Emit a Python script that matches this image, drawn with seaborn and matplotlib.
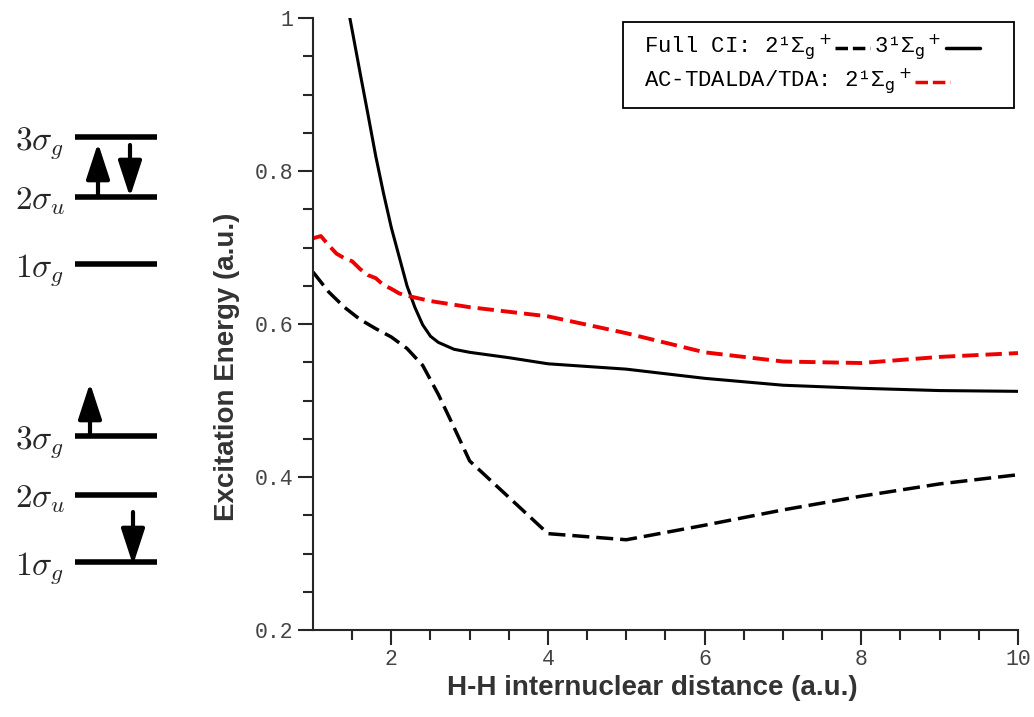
import matplotlib
matplotlib.use('Agg')
import matplotlib.pyplot as plt
import numpy as np
import seaborn as sns
from matplotlib.lines import Line2D
from matplotlib.offsetbox import TextArea, DrawingArea, HPacker, VPacker, AnchoredOffsetbox

# Full CI 2^1Sigma_g^+ (dashed black)
x_ci2 = [1.0, 1.2, 1.4, 1.6, 1.8, 2.0, 2.2, 2.4, 2.6, 2.8, 3.0, 4.0, 5.0, 6.0, 7.0, 8.0, 9.0, 10.0]
e_ci2 = [0.668, 0.642, 0.622, 0.606, 0.594, 0.583, 0.568, 0.546, 0.508, 0.465, 0.421,
         0.326, 0.318, 0.337, 0.357, 0.375, 0.391, 0.403]

# Full CI 3^1Sigma_g^+ (solid black)
x_ci3 = [1.4, 1.5, 1.6, 1.7, 1.8, 1.9, 2.0, 2.1, 2.2, 2.3, 2.4, 2.5, 2.6, 2.8, 3.0, 3.5,
         4.0, 5.0, 6.0, 7.0, 8.0, 9.0, 10.0]
e_ci3 = [1.038, 0.984, 0.929, 0.875, 0.820, 0.771, 0.726, 0.688, 0.650, 0.622, 0.599, 0.584,
         0.576, 0.567, 0.563, 0.556, 0.548, 0.541, 0.529, 0.520, 0.516, 0.513, 0.512]

# AC-TDALDA/TDA 2^1Sigma_g^+ (dashed red)
x_tda = [1.0, 1.1, 1.2, 1.3, 1.4, 1.5, 1.6, 1.7, 1.8, 1.9, 2.0, 2.1, 2.2, 2.5, 3.0, 3.5,
         4.0, 5.0, 6.0, 7.0, 8.0, 9.0, 10.0]
e_tda = [0.712, 0.715, 0.703, 0.692, 0.686, 0.682, 0.672, 0.664, 0.660, 0.651, 0.646, 0.640,
         0.637, 0.630, 0.622, 0.616, 0.610, 0.588, 0.563, 0.551, 0.549, 0.557, 0.562]

xticks = [2, 4, 6, 8, 10]
yticks = [0.2, 0.4, 0.6, 0.8, 1.0]
ytick_labels = ['0.2', '0.4', '0.6', '0.8', '1']

# orbital diagram (drawn in pixel units of the figure)
orbital_labels = [r'$1\sigma_g$', r'$2\sigma_u$', r'$3\sigma_g$']
ground_levels = [264, 197, 137]
excited_levels = [562, 495, 436]
# arrows: (x, tail, tip)
ground_arrows = [(98, 197, 143), (130, 145, 197)]
excited_arrows = [(90, 436, 383), (133, 512, 565)]

sns.set_style('ticks')
plt.rcParams['font.family'] = ['Liberation Mono', 'DejaVu Sans']
label_font = ['Liberation Sans Narrow', 'Liberation Sans', 'DejaVu Sans']

fig = plt.figure(figsize=(10.34, 7.17), dpi=100)
ax = fig.add_axes([0.3027, 0.1213, 0.6818, 0.8536])

sns.lineplot(x=x_ci2, y=e_ci2, ax=ax, color='black', lw=2.5, linestyle=(0, (4.9, 2.0)))
sns.lineplot(x=x_ci3, y=e_ci3, ax=ax, color='black', lw=2.2)
sns.lineplot(x=x_tda, y=e_tda, ax=ax, color='#ee0000', lw=2.8, linestyle=(0, (4.2, 1.8)))

ax.set_xlim(1, 10)
ax.set_ylim(0.2, 1.0)
ax.set_xticks(xticks)
ax.set_xticks(np.arange(1.5, 10, 0.5), minor=True)
ax.set_yticks(yticks)
ax.set_yticklabels(ytick_labels)
ax.set_yticks(np.arange(0.25, 1.0, 0.05), minor=True)

ax.spines['top'].set_visible(False)
ax.spines['right'].set_visible(False)
ax.spines['left'].set_linewidth(1.5)
ax.spines['bottom'].set_linewidth(1.5)
ax.tick_params(which='major', direction='out', length=11, width=1.5, labelsize=15.5,
               labelcolor='#444444', pad=3)
ax.tick_params(which='minor', direction='out', length=7, width=1.5)

ax.set_xlabel('H-H internuclear distance (a.u.)', fontsize=20, fontweight='bold',
              color='#333333', family=label_font)
ax.set_ylabel('Excitation Energy (a.u.)', fontsize=20, fontweight='bold',
              color='#333333', family=label_font)
ax.xaxis.set_label_coords(0.481, -0.073)
ax.yaxis.set_label_coords(-0.104, 0.43)

# custom legend: label followed by line sample
tp = dict(family=['Liberation Mono', 'DejaVu Sans'], size=16, color='black',
          math_fontfamily='dejavusans')
state = '¹Σ$_\\mathrm{g}$$^+$'


def sample(color, ls, lw):
    da = DrawingArea(25, 10, 0, 0)
    da.add_artist(Line2D([0, 25], [5, 5], color=color, lw=lw, linestyle=ls))
    return da


row1 = HPacker(children=[TextArea('Full CI: 2' + state, textprops=tp),
                         sample('black', (0, (3.6, 1.4)), 2.5),
                         TextArea('3' + state, textprops=tp),
                         sample('black', '-', 2.5)],
               align='center', sep=3, pad=0)
row2 = HPacker(children=[TextArea('AC-TDALDA/TDA: 2' + state, textprops=tp),
                         sample('#ee0000', (0, (3.6, 1.4)), 2.5)],
               align='center', sep=3, pad=0)
rows = VPacker(children=[row1, row2], align='left', sep=2.5, pad=0)
padded = HPacker(children=[DrawingArea(6.5, 1, 0, 0), rows, DrawingArea(16, 1, 0, 0)],
                 align='center', sep=0, pad=0)
box = AnchoredOffsetbox(loc='upper right', child=padded, pad=0.8, borderpad=0.3,
                        frameon=True, prop=dict(size=10),
                        bbox_to_anchor=(1.0, 1.0), bbox_transform=ax.transAxes)
box.patch.set_boxstyle('square', pad=0)
box.patch.set_edgecolor('black')
box.patch.set_linewidth(1.3)
ax.add_artist(box)

# orbital level diagram on the left
dax = fig.add_axes([0, 0, 1, 1], zorder=-1)
dax.set_xlim(0, 1034)
dax.set_ylim(717, 0)
dax.axis('off')

for levels, arrows in [(ground_levels, ground_arrows), (excited_levels, excited_arrows)]:
    dax.hlines(levels, 75, 157, color='black', lw=4)
    for name, y in zip(orbital_labels, levels):
        dax.text(15, y + 12, name, fontsize=24, math_fontfamily='cm',
                 ha='left', va='baseline')
    for x, tail, tip in arrows:
        dax.annotate('', xy=(x, tip), xytext=(x, tail),
                     arrowprops=dict(arrowstyle='-|>,head_length=1.1,head_width=0.36',
                                     mutation_scale=20, lw=3, color='black',
                                     shrinkA=0, shrinkB=0))

fig.savefig('out.png', dpi=100)
